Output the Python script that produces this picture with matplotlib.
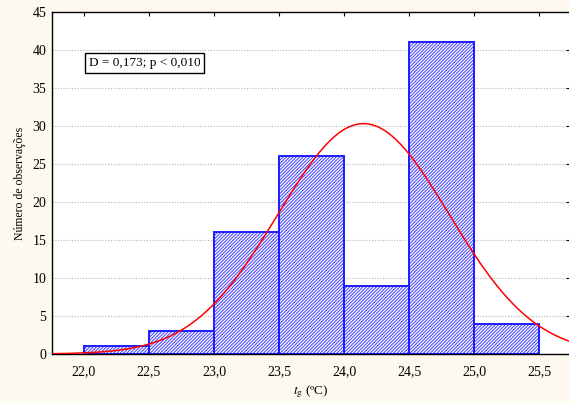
import numpy as np
import matplotlib
matplotlib.use('Agg')
import matplotlib.pyplot as plt

# histogram bins (lower edges) and counts
bin_left = [22.0, 22.5, 23.0, 23.5, 24.0, 24.5, 25.0]
counts = [1, 3, 16, 26, 9, 41, 4]
bin_width = 0.5

# fitted normal curve parameters
fit_mean = 24.15
fit_sd = 0.658

xticks = [22.0, 22.5, 23.0, 23.5, 24.0, 24.5, 25.0, 25.5]
xtick_labels = ['22,0', '22,5', '23,0', '23,5', '24,0', '24,5', '25,0', '25,5']
yticks = [0, 5, 10, 15, 20, 25, 30, 35, 40, 45]

BG = '#fdf9ef'

plt.rcParams['font.family'] = ['Liberation Serif', 'DejaVu Serif']
plt.rcParams['mathtext.fontset'] = 'stix'
plt.rcParams['hatch.linewidth'] = 0.8

fig = plt.figure(figsize=(5.69, 4.03), dpi=100, facecolor=BG)
ax = fig.add_axes([52 / 569, 1 - 354 / 403, 518 / 569, 342 / 403])
ax.set_facecolor('white')

# hatch layer (hatch takes the edge colour), then the outline on top
ax.bar(bin_left, counts, width=bin_width, align='edge', color='white',
       edgecolor='#5050ff', hatch='/' * 10, linewidth=0, zorder=2)
ax.bar(bin_left, counts, width=bin_width, align='edge', fill=False,
       edgecolor='#1c1cff', linewidth=1.4, zorder=2.5)

n = sum(counts)
xs = np.linspace(21.75, 25.74, 400)
ys = n * bin_width * np.exp(-0.5 * ((xs - fit_mean) / fit_sd) ** 2) / (fit_sd * np.sqrt(2 * np.pi))
ax.plot(xs, ys, color='#ff0000', linewidth=1.1, zorder=3)

ax.set_xlim(21.754, 25.738)
ax.set_ylim(0, 45)
ax.set_xticks(xticks)
ax.set_xticklabels(xtick_labels)
ax.set_yticks(yticks)

# dotted grid
for y in yticks[1:-1]:
    ax.axhline(y, color='#b4b4b4', linestyle=(0, (1, 1.5)), linewidth=0.8, zorder=1)

ax.tick_params(axis='both', labelsize=10, length=3, direction='in',
               top=True, right=True, left=False, bottom=False)
ax.tick_params(axis='x', pad=8)
ax.tick_params(axis='y', pad=4)
for s in ax.spines.values():
    s.set_linewidth(1.0)
ax.spines['right'].set_visible(False)

ax.set_ylabel('Número de observações', fontsize=8.5, labelpad=5)
ax.set_xlabel(r'$\mathit{t}_{\mathrm{g}}$ (ºC)', fontsize=9.5, labelpad=4)

ax.text(22.035, 38.3, 'D = 0,173; p < 0,010', fontsize=9.5, va='center', ha='left',
        bbox=dict(boxstyle='square,pad=0.3', facecolor='white',
                  edgecolor='black', linewidth=1.0), zorder=4)

fig.savefig('out.png', dpi=100, facecolor=BG)
